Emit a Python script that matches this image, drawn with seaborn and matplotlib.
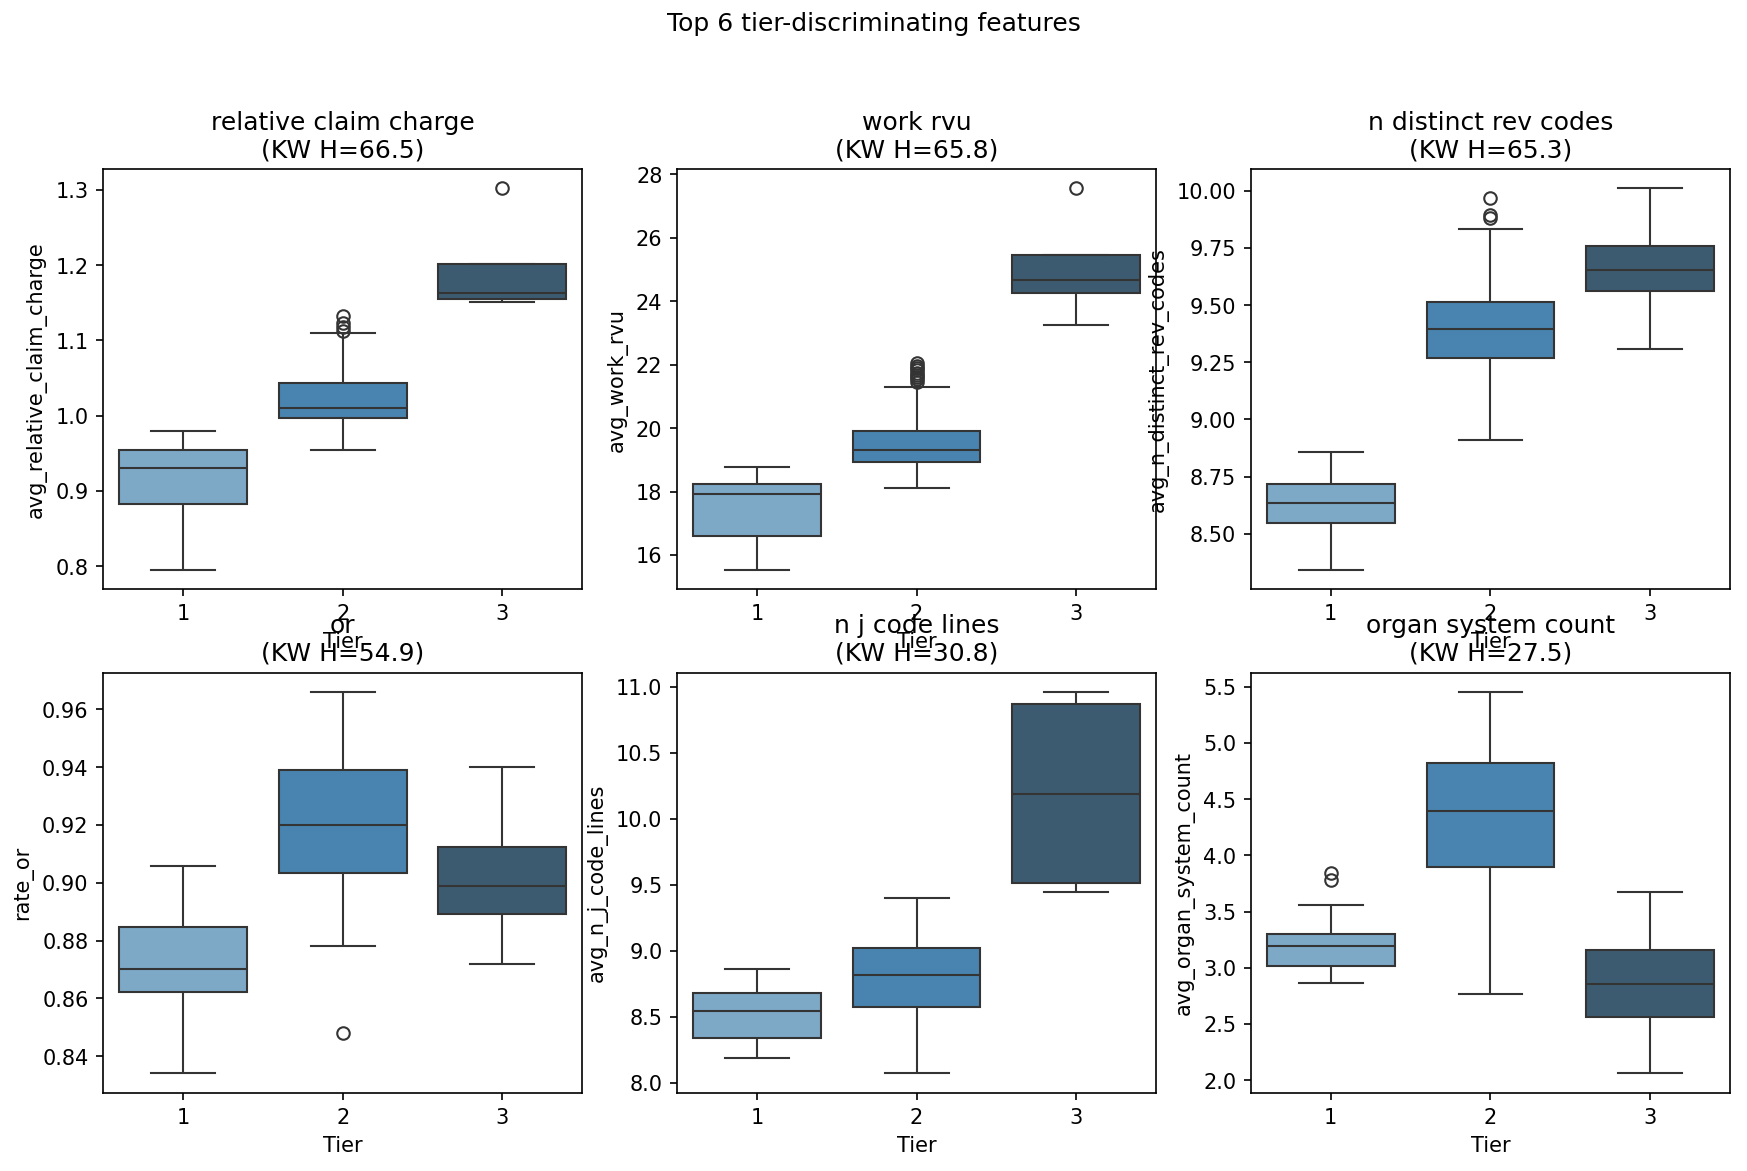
import numpy as np
import pandas as pd
import matplotlib
matplotlib.use("Agg")
import matplotlib.pyplot as plt
import seaborn as sns

# --- Values ---
tiers = ["1", "2", "3"]

features = ["avg_relative_claim_charge", "avg_work_rvu", "avg_n_distinct_rev_codes",
            "rate_or", "avg_n_j_code_lines", "avg_organ_system_count"]
titles = ["relative claim charge", "work rvu", "n distinct rev codes",
          "or", "n j code lines", "organ system count"]
kw_h = [66.5, 65.8, 65.3, 54.9, 30.8, 27.5]

# per tier: [whisker low, Q1, median, Q3, whisker high]
rel_claim_box = [[0.795, 0.882, 0.930, 0.954, 0.979],
                 [0.955, 0.9965, 1.0107, 1.043, 1.1097],
                 [1.151, 1.155, 1.163, 1.2017, 1.2017]]
rel_claim_out = [[], [1.113, 1.118, 1.123, 1.132], [1.302]]

work_rvu_box = [[15.53, 16.61, 17.92, 18.23, 18.78],
                [18.11, 18.93, 19.30, 19.90, 21.30],
                [23.25, 24.27, 24.68, 25.44, 25.44]]
work_rvu_out = [[], [21.45, 21.53, 21.60, 21.67, 21.74, 21.82, 21.90, 21.97, 22.05], [27.55]]

rev_codes_box = [[8.342, 8.547, 8.633, 8.716, 8.857],
                 [8.910, 9.270, 9.395, 9.512, 9.831],
                 [9.310, 9.560, 9.655, 9.760, 10.010]]
rev_codes_out = [[], [9.880, 9.892, 9.968], []]

rate_or_box = [[0.834, 0.8623, 0.8703, 0.8848, 0.9058],
               [0.878, 0.9032, 0.9199, 0.9390, 0.966],
               [0.8718, 0.889, 0.899, 0.9123, 0.9401]]
rate_or_out = [[], [0.848], []]

j_code_box = [[8.19, 8.341, 8.545, 8.680, 8.864],
              [8.07, 8.576, 8.818, 9.023, 9.402],
              [9.447, 9.515, 10.189, 10.871, 10.962]]
j_code_out = [[], [], []]

organ_box = [[2.861, 3.020, 3.198, 3.301, 3.558],
             [2.767, 3.897, 4.398, 4.826, 5.454],
             [2.06, 2.56, 2.86, 3.16, 3.67]]
organ_out = [[3.78, 3.84], [], []]

all_box = [rel_claim_box, work_rvu_box, rev_codes_box, rate_or_box, j_code_box, organ_box]
all_out = [rel_claim_out, work_rvu_out, rev_codes_out, rate_or_out, j_code_out, organ_out]


def tier_values(stats, outliers, m=20):
    # rebuild a sample whose quartiles / whiskers land on the read values
    lo, q1, med, q3, hi = stats
    return [lo] + [q1] * m + [med] * m + [q3] * m + [hi] + list(outliers)


fig, axes = plt.subplots(2, 3, figsize=(11.65, 7.81), dpi=150)
fig.subplots_adjust(left=0.059, right=0.990, top=0.855, bottom=0.067, wspace=0.198, hspace=0.2)

for ax, col, title, h, box, out in zip(axes.flat, features, titles, kw_h, all_box, all_out):
    rows = []
    for t, stats, o in zip(tiers, box, out):
        for v in tier_values(stats, o):
            rows.append({"Tier": t, col: v})
    df = pd.DataFrame(rows)
    sns.boxplot(data=df, x="Tier", y=col, hue="Tier", order=tiers, hue_order=tiers,
                palette="Blues_d", legend=False, ax=ax)
    ax.set_title(f"{title}\n(KW H={h:.1f})")
    ax.set_xlabel("Tier")
    ax.set_ylabel(col)

fig.suptitle("Top 6 tier-discriminating features", y=0.99)
fig.savefig("out.png", dpi=150)
